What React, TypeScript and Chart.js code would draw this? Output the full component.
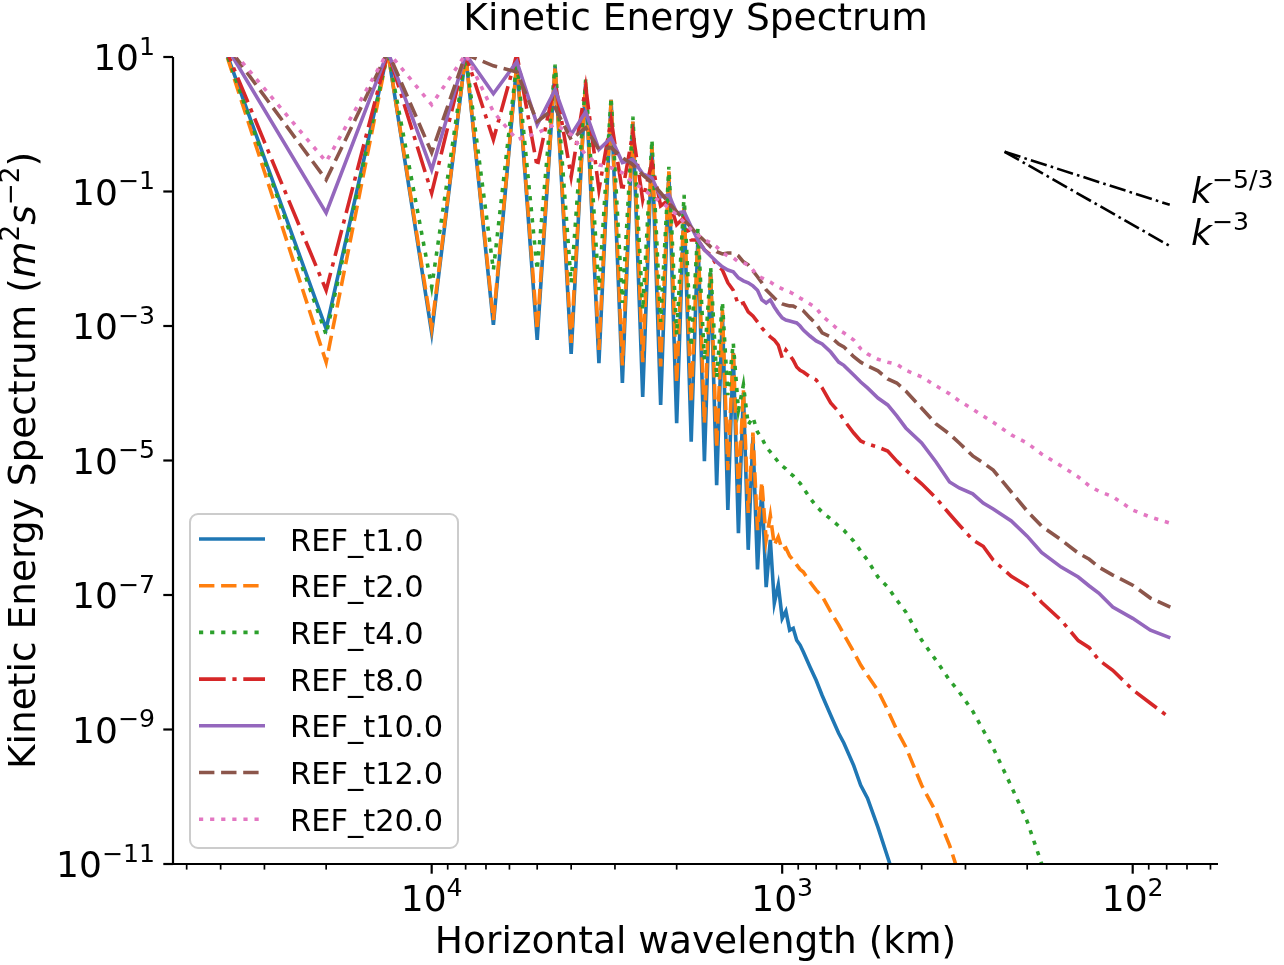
import React, { useEffect, useRef } from "react";
import { Chart, registerables } from "chart.js";

Chart.register(...registerables);

// ---------------- data ----------------
// Horizontal wavelength in km (domain 40000 km / wavenumber)
const wavelengthKm = [
  40000, 20000, 13333, 10000, 8000, 6667, 5714, 5000, 4444, 4000,
  3636, 3333, 3077, 2857, 2667, 2500, 2353, 2222, 2105, 2000,
  1905, 1818, 1739, 1667, 1600, 1538, 1481, 1429, 1379, 1333,
  1290, 1250, 1212, 1176, 1143, 1111, 1081, 1053, 1026, 1000,
  976, 952, 930, 909, 889, 870,
  833, 800, 769, 727, 690, 667, 625, 597, 571, 533, 500, 471,
  444, 400, 364, 333, 312.5, 286, 267, 250, 222, 200, 182, 160, 143, 133, 125, 114, 100, 89, 78.1,
];

const refT1 = [
  20, 9.1e-4, 12, 7.9e-4, 11, 1.04e-3, 8.2, 6.2e-4, 7.2, 3.85e-4,
  4.15, 2.8e-4, 2.3, 1.42e-4, 1.09, 8.8e-5, 0.46, 6.7e-5, 0.19, 3.6e-5,
  0.059, 1.9e-5, 0.021, 9.8e-6, 6.2e-3, 4.3e-6, 1.57e-3, 1.84e-6, 4e-4, 8.3e-7,
  1.01e-4, 4.7e-7, 2.24e-5, 2.4e-7, 3.9e-6, 1.31e-7, 6.6e-7, 7.6e-8, 1.41e-7, 4.5e-8,
  5.75e-8, 3.0e-8, 3.2e-8, 2.13e-8, 1.8e-8, 1.42e-8,
  8.5e-9, 5.4e-9, 3.2e-9, 1.63e-9, 8.8e-10, 6.3e-10, 2.9e-10, 1.48e-10, 9.5e-11, 3.5e-11, 1.26e-11, 4.8e-12,
  null, null, null, null, null, null, null, null, null, null, null, null, null, null, null, null, null, null, null,
];

const refT2 = [
  20, 2.9e-4, 12, 9.4e-4, 11, 1.23e-3, 8.2, 8.7e-4, 7.2, 5.6e-4,
  4.15, 4.4e-4, 2.3, 2.6e-4, 1.1, 2.9e-4, 0.49, 2.5e-4, 0.2, 1.42e-4,
  0.063, 7.2e-5, 0.023, 3.6e-5, 6.6e-3, 1.53e-5, 1.74e-3, 7.2e-6, 4.4e-4, 3.3e-6,
  1.12e-4, 1.66e-6, 2.6e-5, 9.2e-7, 4.8e-6, 6.6e-7, 1.52e-6, 5.5e-7, 7.3e-7, 4.7e-7,
  5e-7, 3.8e-7, 3.3e-7, 2.8e-7, 2.4e-7, 2.2e-7,
  1.56e-7, 1.18e-7, 9.6e-8, 5.6e-8, 3.6e-8, 2.6e-8, 1.42e-8, 9.1e-9, 6.4e-9, 3.8e-9, 1.94e-9, 9.8e-10,
  5.5e-10, 1.48e-10, 5.9e-11, 1.9e-11, 6.8e-12, null, null, null, null, null, null, null, null, null, null, null, null, null, null,
];

const refT4 = [
  20, 7.4e-4, 12, 3.8e-3, 11, 6.8e-3, 8.5, 6.8e-3, 7.7, 4.4e-3,
  4.6, 3.4e-3, 2.5, 2.2e-3, 1.3, 1.74e-3, 0.588, 1.15e-3, 0.233, 7.4e-4,
  0.089, 4.9e-4, 0.029, 3.1e-4, 7.6e-3, 1.69e-4, 2.29e-3, 9.4e-5, 5.6e-4, 5.6e-5,
  1.33e-4, 3.4e-5, 4.4e-5, 2.65e-5, 2.16e-5, 1.59e-5, 1.34e-5, 1.13e-5, 9.5e-6, 8.3e-6,
  7.5e-6, 6.5e-6, 5.9e-6, 5.1e-6, 4.6e-6, 3.9e-6,
  2.77e-6, 2.1e-6, 1.71e-6, 1.35e-6, 1.06e-6, 9.2e-7, 6.3e-7, 4.5e-7, 3.3e-7, 1.85e-7, 1.31e-7, 8.4e-8,
  5.6e-8, 2.13e-8, 1.07e-8, 5.4e-9, 3.6e-9, 1.87e-9, 9.8e-10, 5.3e-10, 1.43e-10, 4.3e-11, 1.02e-11, 1.45e-12,
  null, null, null, null, null, null, null,
];

const refT8 = [
  20, 3.4e-3, 12, 0.095, 11, 0.59, 11, 0.233, 4.15, 0.166,
  3.6, 0.106, 1.17, 0.099, 0.75, 0.075, 0.27, 0.061, 0.075, 0.032,
  0.041, 0.019, 0.019, 0.0136, 0.0114, 8.1e-3, 6.8e-3, 4.4e-3, 3.4e-3, 2.06e-3,
  2.2e-3, 1.62e-3, 1.41e-3, 1.15e-3, 9.4e-4, 7.9e-4, 6.9e-4, 6.2e-4, 5.2e-4, 3.35e-4,
  4.4e-4, 3.7e-4, 3.1e-4, 2.46e-4, 2.2e-4, 2.07e-4,
  1.75e-4, 1.58e-4, 1.2e-4, 7.2e-5, 5.3e-5, 4e-5, 2.56e-5, 1.95e-5, 1.76e-5, 1.58e-5, 1.38e-5, 9.8e-6,
  7.2e-6, 4.5e-6, 2.77e-6, 1.6e-6, 1.1e-6, 6.6e-7, 5.3e-7, 3.3e-7, 1.9e-7, 1.36e-7, 7.8e-8, 4.2e-8,
  2.1e-8, 1.65e-8, 1.08e-8, 7.6e-9, 3.9e-9, 2.46e-9, 1.47e-9,
];

const refT10 = [
  20, 0.048, 12, 0.21, 11, 2.84, 8.5, 0.98, 3.26, 0.7,
  1.53, 0.42, 0.63, 0.27, 0.3, 0.183, 0.16, 0.083, 0.089, 0.048,
  0.05, 0.03, 0.019, 0.0136, 0.011, 9e-3, 7.6e-3, 6.8e-3, 6.4e-3, 5.2e-3,
  4.7e-3, 4.4e-3, 3.95e-3, 3.4e-3, 2.45e-3, 2.2e-3, 2.45e-3, 1.92e-3, 1.57e-3, 1.32e-3,
  1.23e-3, 1.19e-3, 1.15e-3, 1.11e-3, 1.0e-3, 8.7e-4,
  7.1e-4, 6e-4, 5.4e-4, 4.1e-4, 2.9e-4, 2.6e-4, 1.87e-4, 1.47e-4, 1.2e-4, 8.5e-5, 6.7e-5, 4.6e-5,
  3.05e-5, 1.82e-5, 9.5e-6, 4.8e-6, 3.9e-6, 3.2e-6, 2.33e-6, 1.9e-6, 1.26e-6, 7.5e-7, 4.3e-7, 2.6e-7,
  1.85e-7, 1.36e-7, 1.07e-7, 6.6e-8, 4.5e-8, 3e-8, 2.3e-8,
];

const refT12 = [
  20, 0.149, 12, 0.38, 11, 7.4, 6.0, 1.09, 1.76, 0.59,
  0.89, 0.42, 0.45, 0.32, 0.25, 0.177, 0.135, 0.096, 0.068, 0.05,
  0.038, 0.029, 0.0227, 0.0185, 0.015, 0.0127, 0.0118, 0.0122, 0.0122, 0.011,
  9e-3, 8.1e-3, 6.6e-3, 5.4e-3, 4.4e-3, 3.44e-3, 3.0e-3, 2.6e-3, 2.29e-3, 2.13e-3,
  2.06e-3, 1.99e-3, 1.98e-3, 1.86e-3, 1.8e-3, 1.68e-3,
  1.32e-3, 1.07e-3, 7.9e-4, 6.9e-4, 5.4e-4, 4.9e-4, 3.5e-4, 2.9e-4, 2.55e-4, 2.15e-4, 1.63e-4, 1.42e-4,
  1.08e-4, 6e-5, 3.5e-5, 2.48e-5, 1.82e-5, 1.17e-5, 9.2e-6, 7.2e-6, 3.4e-6, 1.77e-6, 1.06e-6, 6.6e-7,
  4.2e-7, 3.4e-7, 2.6e-7, 1.98e-7, 1.4e-7, 9e-8, 6.6e-8,
];

const refT20 = [
  20, 0.277, 12, 1.95, 11, 1.53, 0.59, 0.74, 1.0, 0.7,
  0.35, 0.25, 0.225, 0.19, 0.135, 0.11, 0.086, 0.07, 0.057, 0.045,
  0.035, 0.027, 0.0227, 0.019, 0.0173, 0.015, 0.0122, 0.011, 0.0103, 9e-3,
  8.7e-3, 8.1e-3, 6.8e-3, 5.6e-3, 5.2e-3, 4.85e-3, 4.5e-3, 4.1e-3, 3.8e-3, 3.56e-3,
  3.3e-3, 3.2e-3, 3.0e-3, 2.8e-3, 2.6e-3, 2.44e-3,
  2.13e-3, 1.86e-3, 1.41e-3, 1.11e-3, 8.7e-4, 7.9e-4, 6.2e-4, 4.6e-4, 3.85e-4, 3.2e-4, 2.9e-4, 2.7e-4,
  2.2e-4, 1.75e-4, 1.29e-4, 9.8e-5, 7.7e-5, 5.8e-5, 4.6e-5, 3.7e-5, 2.4e-5, 1.82e-5, 1.25e-5, 8.3e-6,
  5.7e-6, 4.2e-6, 3.5e-6, 2.9e-6, 1.83e-6, 1.44e-6, 1.17e-6,
];

const seriesNames = ["REF_t1.0", "REF_t2.0", "REF_t4.0", "REF_t8.0", "REF_t10.0", "REF_t12.0", "REF_t20.0"];
const seriesValues = [refT1, refT2, refT4, refT8, refT10, refT12, refT20];

// reference slope lines
const slopeWavelengthKm = [232, 78.4];
const slopeMinus53 = [0.39, 0.0634];
const slopeMinus3 = [0.39, 0.0155];

// axis ticks
const yTickExponents = [1, -1, -3, -5, -7, -9, -11];
const xMajorExponents = [4, 3, 2];

// ---------------- styles ----------------
const FONT = "'DejaVu Sans', sans-serif";
const seriesColors = ["#1f77b4", "#ff7f0e", "#2ca02c", "#d62728", "#9467bd", "#8c564b", "#e377c2"];
const DASH: Record<string, number[]> = {
  solid: [],
  dashed: [15.4, 6.7],
  dotted: [4.2, 6.9],
  dashdot: [26.7, 6.7, 4.2, 6.7],
};
const seriesDash = [DASH.solid, DASH.dashed, DASH.dotted, DASH.dashdot, DASH.solid, DASH.dashed, DASH.dotted];
const LINE_W = 3.6;
const TICK_SIZE = 36;
const LABEL_SIZE = 37.5;
const LEGEND_SIZE = 30.5;
const ANNOT_SIZE = 36;

type Run = { text: string; size: number; italic?: boolean; rise?: number };

function runFont(r: Run) {
  return `${r.italic ? "italic " : ""}${r.size}px ${FONT}`;
}
function runsWidth(ctx: CanvasRenderingContext2D, runs: Run[]) {
  let w = 0;
  for (const r of runs) {
    ctx.font = runFont(r);
    w += ctx.measureText(r.text).width;
  }
  return w;
}
function drawRuns(ctx: CanvasRenderingContext2D, runs: Run[], x: number, y: number, align: "left" | "center" | "right") {
  const w = runsWidth(ctx, runs);
  let cx = align === "left" ? x : align === "center" ? x - w / 2 : x - w;
  ctx.textAlign = "left";
  ctx.textBaseline = "alphabetic";
  for (const r of runs) {
    ctx.font = runFont(r);
    ctx.fillText(r.text, cx, y - (r.rise || 0));
    cx += ctx.measureText(r.text).width;
  }
}
function expText(e: number) {
  return e < 0 ? "\u2212" + Math.abs(e) : String(e);
}
function powerRuns(e: number, size: number): Run[] {
  return [
    { text: "10", size },
    { text: expText(e), size: size * 0.7, rise: size * 0.42 },
  ];
}
function strokeLine(ctx: CanvasRenderingContext2D, x0: number, y0: number, x1: number, y1: number) {
  ctx.beginPath();
  ctx.moveTo(x0, y0);
  ctx.lineTo(x1, y1);
  ctx.stroke();
}

const decorPlugin = {
  id: "decor",
  afterDraw(chart: any) {
    const ctx: CanvasRenderingContext2D = chart.ctx;
    const a = chart.chartArea;
    const xs = chart.scales.x;
    const ys = chart.scales.y;
    ctx.save();
    ctx.setLineDash([]);
    ctx.lineCap = "butt";
    ctx.strokeStyle = "#000";
    ctx.fillStyle = "#000";

    // spines
    ctx.lineWidth = 2.2;
    strokeLine(ctx, a.left, a.top, a.left, a.bottom + 1.1);
    strokeLine(ctx, a.left - 1.1, a.bottom, a.right, a.bottom);

    // y ticks + labels
    for (const e of yTickExponents) {
      const y = ys.getPixelForValue(Math.pow(10, e));
      ctx.lineWidth = 2.2;
      strokeLine(ctx, a.left - 9.7, y, a.left, y);
      drawRuns(ctx, powerRuns(e, TICK_SIZE), a.left - 18, y + 13, "right");
    }

    // x minor ticks
    ctx.lineWidth = 1.7;
    for (let d = 1; d <= 4; d++) {
      for (let m = 2; m <= 9; m++) {
        const v = m * Math.pow(10, d);
        if (v < xs.min || v > xs.max) continue;
        const x = xs.getPixelForValue(v);
        strokeLine(ctx, x, a.bottom, x, a.bottom + 5.6);
      }
    }
    // x major ticks + labels
    for (const e of xMajorExponents) {
      const x = xs.getPixelForValue(Math.pow(10, e));
      ctx.lineWidth = 2.2;
      strokeLine(ctx, x, a.bottom, x, a.bottom + 9.7);
      drawRuns(ctx, powerRuns(e, TICK_SIZE), x, 911, "center");
    }

    const cx = (a.left + a.right) / 2;
    // title
    drawRuns(ctx, [{ text: "Kinetic Energy Spectrum", size: LABEL_SIZE }], cx, 30, "center");
    // x label
    drawRuns(ctx, [{ text: "Horizontal wavelength (km)", size: LABEL_SIZE }], cx, 953, "center");
    // y label
    ctx.save();
    ctx.translate(35, (a.top + a.bottom) / 2);
    ctx.rotate(-Math.PI / 2);
    drawRuns(
      ctx,
      [
        { text: "Kinetic Energy Spectrum (", size: LABEL_SIZE },
        { text: "m", size: LABEL_SIZE, italic: true },
        { text: "2", size: LABEL_SIZE * 0.7, rise: LABEL_SIZE * 0.42 },
        { text: "s", size: LABEL_SIZE, italic: true },
        { text: "\u22122", size: LABEL_SIZE * 0.7, rise: LABEL_SIZE * 0.42 },
        { text: ")", size: LABEL_SIZE },
      ],
      0,
      0,
      "center"
    );
    ctx.restore();

    // slope annotations
    const AS = ANNOT_SIZE;
    drawRuns(ctx, [{ text: "k", size: AS, italic: true }, { text: "\u22125/3", size: AS * 0.7, rise: AS * 0.42 }], 1191, 203, "left");
    drawRuns(ctx, [{ text: "k", size: AS, italic: true }, { text: "\u22123", size: AS * 0.7, rise: AS * 0.42 }], 1191, 245, "left");

    // legend
    const L = { x0: 190, y0: 514, x1: 458, y1: 848, r: 8 };
    ctx.beginPath();
    ctx.moveTo(L.x0 + L.r, L.y0);
    ctx.lineTo(L.x1 - L.r, L.y0);
    ctx.arcTo(L.x1, L.y0, L.x1, L.y0 + L.r, L.r);
    ctx.lineTo(L.x1, L.y1 - L.r);
    ctx.arcTo(L.x1, L.y1, L.x1 - L.r, L.y1, L.r);
    ctx.lineTo(L.x0 + L.r, L.y1);
    ctx.arcTo(L.x0, L.y1, L.x0, L.y1 - L.r, L.r);
    ctx.lineTo(L.x0, L.y0 + L.r);
    ctx.arcTo(L.x0, L.y0, L.x0 + L.r, L.y0, L.r);
    ctx.closePath();
    ctx.fillStyle = "rgba(255,255,255,0.8)";
    ctx.fill();
    ctx.strokeStyle = "#cccccc";
    ctx.lineWidth = 2;
    ctx.stroke();
    for (let i = 0; i < seriesNames.length; i++) {
      const y = 539 + i * 46.7;
      ctx.strokeStyle = seriesColors[i];
      ctx.lineWidth = LINE_W;
      ctx.setLineDash(seriesDash[i]);
      strokeLine(ctx, 199, y, 265, y);
      ctx.setLineDash([]);
      ctx.fillStyle = "#000";
      drawRuns(ctx, [{ text: seriesNames[i], size: LEGEND_SIZE }], 290, y + 11.5, "left");
    }
    ctx.restore();
  },
};

export default function App() {
  const canvasRef = useRef<HTMLCanvasElement | null>(null);

  useEffect(() => {
    document.body.style.margin = "0";
    const canvas = canvasRef.current;
    if (!canvas) return;

    const datasets: any[] = seriesValues.map((vals, i) => ({
      label: seriesNames[i],
      data: wavelengthKm.map((x, j) => ({ x, y: vals[j] })),
      borderColor: seriesColors[i],
      backgroundColor: seriesColors[i],
      borderWidth: LINE_W,
      borderDash: seriesDash[i],
      pointRadius: 0,
      tension: 0,
      fill: false,
      spanGaps: false,
      clip: 0,
      order: -i,
    }));
    const slopeSets = [slopeMinus53, slopeMinus3];
    slopeSets.forEach((vals, i) => {
      datasets.push({
        label: i === 0 ? "k^-5/3" : "k^-3",
        data: slopeWavelengthKm.map((x, j) => ({ x, y: vals[j] })),
        borderColor: "#000",
        borderWidth: 2.6,
        borderDash: [16.6, 4.2, 2.6, 4.2],
        pointRadius: 0,
        tension: 0,
        fill: false,
        clip: 0,
        order: -10,
      });
    });

    const chart = new Chart(canvas, {
      type: "line",
      data: { datasets },
      options: {
        animation: false,
        responsive: false,
        devicePixelRatio: 1,
        events: [],
        layout: { padding: { left: 0, right: 66, top: 57, bottom: 0 } },
        plugins: { legend: { display: false }, tooltip: { enabled: false }, title: { display: false } },
        scales: {
          x: {
            type: "logarithmic",
            reverse: true,
            min: 57.1,
            max: 54700,
            grid: { display: false },
            border: { display: false },
            ticks: { display: false },
            afterFit: (s: any) => {
              s.height = 101;
            },
          },
          y: {
            type: "logarithmic",
            min: 1e-11,
            max: 10,
            grid: { display: false },
            border: { display: false },
            ticks: { display: false },
            afterFit: (s: any) => {
              s.width = 173;
            },
          },
        },
      } as any,
      plugins: [decorPlugin],
    });
    return () => chart.destroy();
  }, []);

  return (
    <div style={{ position: "absolute", left: 0, top: 0, width: 1284, height: 965 }}>
      <canvas ref={canvasRef} width={1284} height={965} style={{ display: "block" }} />
    </div>
  );
}
